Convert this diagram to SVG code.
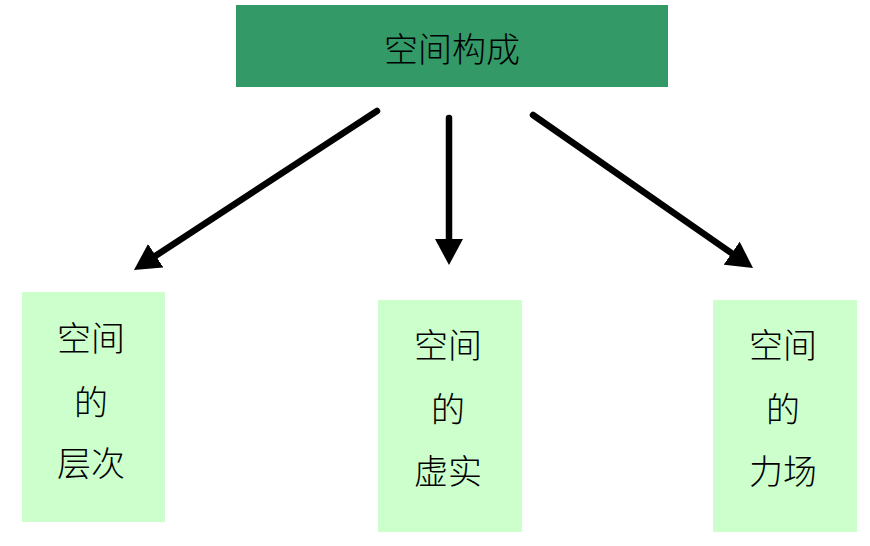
<svg xmlns="http://www.w3.org/2000/svg" width="870" height="546" viewBox="0 0 870 546">
  <style>
    .lbl { font-family: "Noto Sans CJK SC", "Noto Sans CJK TC", sans-serif; font-size: 34px; font-weight: 300; fill: #000; text-anchor: middle; }
    .sub { fill: #ccffcc; }
    .conn { stroke: #000; stroke-width: 6.5; fill: none; stroke-linecap: round; }
  </style>
  <defs>
    <marker id="ah" markerUnits="userSpaceOnUse" markerWidth="28" markerHeight="28" viewBox="0 0 28 28" refX="6" refY="14" orient="auto">
      <path d="M0,0 L26,14 L0,28 z" fill="#000"/>
    </marker>
  </defs>
  <rect width="870" height="546" fill="#fff"/>
  <g id="top">
    <rect x="236" y="5" width="432" height="82" fill="#339966"/>
    <text class="lbl" x="452" y="62">空间构成</text>
  </g>
  <g id="node-left">
    <rect class="sub" x="22" y="292" width="143" height="230"/>
    <text class="lbl" x="91" y="351">空间</text>
    <text class="lbl" x="91" y="415">的</text>
    <text class="lbl" x="91" y="476">层次</text>
  </g>
  <g id="node-mid">
    <rect class="sub" x="378" y="300" width="144" height="232"/>
    <text class="lbl" x="448" y="358">空间</text>
    <text class="lbl" x="448" y="422">的</text>
    <text class="lbl" x="448" y="484">虚实</text>
  </g>
  <g id="node-right">
    <rect class="sub" x="713" y="300" width="144" height="232"/>
    <text class="lbl" x="783" y="358">空间</text>
    <text class="lbl" x="783" y="422">的</text>
    <text class="lbl" x="783" y="484">力场</text>
  </g>
  <g id="connectors">
    <line class="conn" x1="377" y1="111" x2="150.7" y2="259" marker-end="url(#ah)"/>
    <line class="conn" x1="449" y1="118" x2="449" y2="245" marker-end="url(#ah)"/>
    <line class="conn" x1="533" y1="115" x2="736.6" y2="256.6" marker-end="url(#ah)"/>
  </g>
</svg>
